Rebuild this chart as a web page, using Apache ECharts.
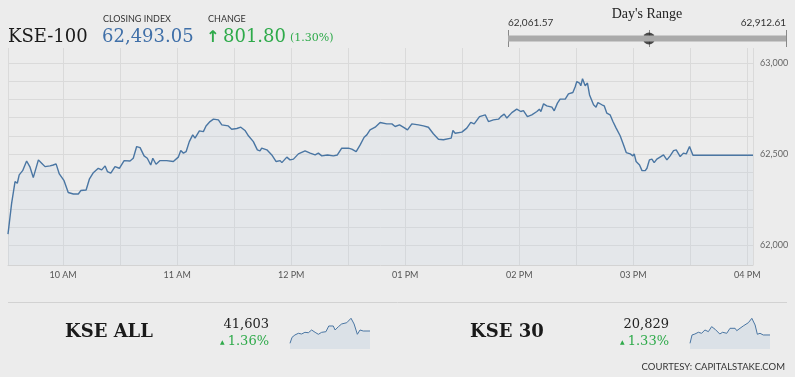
<!DOCTYPE html>
<html><head><meta charset="utf-8">
<script src="https://cdn.jsdelivr.net/npm/echarts@6/dist/echarts.min.js"></script>
<style>html,body{margin:0;padding:0;background:#ececec}#c{width:795px;height:377px}</style>
</head><body><div id="c"></div>
<script>
// ---- KSE-100 intraday (minutes since midnight, index value) ----
const timesMin = [571,572.9,574.7,575.9,576.9,578.7,580.8,582.6,584.3,585.2,
587,588.7,590.5,591.4,593.1,594.8,596.3,598,600.5,602.7,
605.4,608,609.3,612.1,613.8,615.9,618.5,620.3,622.1,623.3,
625.1,627.3,629.6,632.1,635.2,636.9,638.7,640.5,642.6,644.3,
646.1,647.2,648.9,651,654.5,658,660.6,661.9,663.3,664.7,
666.4,668.2,669.4,671.7,673.8,675.2,677.3,679.1,681.7,683.5,
686.9,688.7,691.4,693.5,695.7,697.5,700.1,702.2,703.6,704.5,
707.2,709.8,712.1,714.2,715.1,717.7,719.4,721.2,723.8,727.3,
730,732.6,734.3,736.1,739.1,742.2,744.3,746.6,750.1,751.9,
754.2,756.3,758.4,759.8,761.5,764.2,766.8,770.3,773,774.7,
777,779.4,781.2,783.5,787,789.6,792.2,794.8,797.5,800.1,
804.2,805.1,806.3,809.8,812.4,814.5,816.3,819.1,822.1,823.8,
826.4,829.1,830.3,832.1,833.5,836.1,838.7,840.8,842.2,844.3,
846.6,849.3,850.6,851.4,852.8,854.5,857.2,858.4,860.1,861.5,
864.2,865.9,868.2,869.4,870.3,871.7,872.4,873.3,874.7,875.9,
877,879.1,880.4,881.4,883.5,884.7,886.1,887.8,889.3,891,
893.1,894.9,896.3,898.4,899.8,900.5,901.5,903.3,904.6,906.3,
907.2,908.5,909.8,911,912.4,914.5,915.9,917.7,919.4,921.2,
922.6,924.7,926.4,927.9,929.6,930.5,931.4,963];
const kse100Values = [62061.57,62230,62349,62340,62386,62409,62462,62428,62371,62371,
62468,62450,62431,62440,62435,62440,62446,62391,62354,62289,
62281,62281,62300,62303,62362,62398,62422,62413,62435,62404,
62395,62431,62422,62464,62462,62477,62541,62535,62490,62477,
62440,62477,62444,62464,62464,62459,62483,62519,62505,62513,
62568,62605,62587,62627,62623,62654,62678,62691,62687,62660,
62654,62636,62640,62647,62629,62600,62568,62523,62517,62532,
62523,62495,62459,62464,62453,62483,62468,62472,62501,62517,
62505,62495,62505,62490,62495,62490,62495,62532,62532,62527,
62513,62550,62592,62605,62632,62647,62673,62665,62665,62651,
62660,62645,62632,62665,62660,62654,62647,62611,62581,62578,
62587,62629,62614,62620,62642,62673,62665,62705,62715,62678,
62687,62691,62705,62719,62697,62727,62746,62733,62738,62705,
62715,62733,62746,62733,62775,62764,62757,62737,62779,62801,
62801,62830,62837,62867,62897,62889,62874,62912.61,62874,62889,
62824,62770,62757,62782,62770,62764,62724,62715,62678,62642,
62600,62550,62508,62501,62490,62501,62459,62440,62409,62409,
62422,62468,62472,62453,62472,62486,62495,62468,62490,62519,
62523,62486,62505,62501,62541,62545,62493.05,62493.05];

// ---- axes ----
const yGridValues = [62000,62100,62200,62300,62400,62500,62600,62700,62800,62900,63000];
const yLabelValues = [62000,62500,63000];
const xGridValues = [571,600,630,660,690,720,750,780,810,840,870,900,930,960,963];
const xLabelValues = [600,660,720,780,840,900,960];

// ---- header figures ----
const closingIndex = 62493.05;
const changePoints = 801.80;
const changePct = 1.30;
const dayLow = 62061.57;
const dayHigh = 62912.61;

// ---- sparklines ----
const kseAllTimes = [571,581,595,612,628,644,661,677,694,710,726,747,761,783,792,808,824,849,870,885,901,914,930,963];
const kseAllValues = [41323,41459,41512,41551,41535,41573,41564,41626,41573,41528,41573,41587,41717,41717,41626,41701,41763,41792,41893,41763,41528,41626,41603,41603];
const kseAllClose = 41603, kseAllPct = 1.36;
const kse30Times = [571,581,595,612,628,644,661,677,694,717,731,751,767,792,800,816,832,857,874,890,901,914,930,963];
const kse30Values = [20734,20829,20840,20860,20848,20886,20867,20924,20894,20840,20860,20848,20905,20905,20878,20905,20932,20969,21019,20943,20837,20848,20829,20829];
const kse30Close = 20829, kse30Pct = 1.33;

const fmt = (v, d) => v.toLocaleString('en-US', {minimumFractionDigits: d, maximumFractionDigits: d});
const zip = (a, b) => a.map((t, i) => [t, b[i]]);
const timeLabel = v => { const h = Math.floor(v / 60); const hh = h > 12 ? h - 12 : h; return String(hh).padStart(2, '0') + (h >= 12 ? ' PM' : ' AM'); };

const SERIF = '"DejaVu Serif", serif';
const SANS = 'Lato, "Open Sans", sans-serif';
const BLUE = '#4a76a3';
const GREEN = '#2eaa4a';

function txt(x, y, text, font, fill, align) {
  return { type: 'text', silent: true, style: { x, y, text, font, fill, textAlign: align || 'left', align: align || 'left', textVerticalAlign: 'middle', verticalAlign: 'middle' } };
}

const chart = echarts.init(document.getElementById('c'), null, { renderer: 'canvas' });
chart.setOption({
  backgroundColor: '#ececec',
  animation: false,
  grid: [
    { left: 8, width: 745, top: 48, height: 217 },
    { left: 508, width: 278, top: 30, height: 17 },
    { left: 290, width: 80, top: 317, height: 32 },
    { left: 690, width: 80, top: 317, height: 32 }
  ],
  xAxis: [
    { gridIndex: 0, type: 'value', min: 571, max: 963,
      axisLine: { show: true, onZero: false, lineStyle: { color: '#d3d3d3', width: 1 } },
      axisTick: { show: false, customValues: xGridValues },
      splitLine: { show: true, lineStyle: { color: '#dadada', width: 1 } },
      axisLabel: { customValues: xLabelValues, formatter: timeLabel, color: '#555', fontSize: 9, fontFamily: SANS, margin: 6 } },
    { gridIndex: 1, type: 'value', min: dayLow, max: dayHigh,
      axisLine: { show: false }, axisLabel: { show: false },
      axisTick: { show: false, customValues: [dayLow, closingIndex, dayHigh] },
      splitLine: { show: true, lineStyle: { color: '#888', width: 1 } } },
    { gridIndex: 2, type: 'value', min: 571, max: 963, show: false },
    { gridIndex: 3, type: 'value', min: 571, max: 963, show: false }
  ],
  yAxis: [
    { gridIndex: 0, type: 'value', position: 'right', min: 61892, max: 63081,
      axisLine: { show: false },
      axisTick: { show: false, customValues: yGridValues },
      splitLine: { show: true, lineStyle: { color: '#dadada', width: 1 } },
      axisLabel: { customValues: yLabelValues, formatter: v => fmt(v, 0), color: '#666', fontSize: 9, fontFamily: SANS, margin: 7 } },
    { gridIndex: 1, type: 'value', min: 0, max: 1, show: false },
    { gridIndex: 2, type: 'value', min: 41193, max: 41922, show: false },
    { gridIndex: 3, type: 'value', min: 20669, max: 21034, show: false }
  ],
  series: [
    { type: 'line', xAxisIndex: 0, yAxisIndex: 0, data: zip(timesMin, kse100Values), showSymbol: false, symbol: 'none',
      lineStyle: { color: BLUE, width: 1.4 }, areaStyle: { color: 'rgba(190,208,228,0.25)', origin: 'start' }, silent: true },
    { type: 'line', xAxisIndex: 1, yAxisIndex: 1, data: [[dayLow, 0.5], [dayHigh, 0.5]], symbol: 'none',
      lineStyle: { color: '#aaaaaa', width: 6, cap: 'butt' }, silent: true },
    { type: 'scatter', xAxisIndex: 1, yAxisIndex: 1, data: [[closingIndex, 0.5]], symbolSize: 12,
      itemStyle: { color: '#222' }, silent: true },
    { type: 'line', xAxisIndex: 2, yAxisIndex: 2, data: zip(kseAllTimes, kseAllValues), symbol: 'none',
      lineStyle: { color: BLUE, width: 1 }, areaStyle: { color: 'rgba(170,195,220,0.35)', origin: 'start' }, silent: true },
    { type: 'line', xAxisIndex: 3, yAxisIndex: 3, data: zip(kse30Times, kse30Values), symbol: 'none',
      lineStyle: { color: BLUE, width: 1 }, areaStyle: { color: 'rgba(170,195,220,0.35)', origin: 'start' }, silent: true }
  ],
  graphic: [
    txt(8, 37, 'KSE-100', '18px ' + SERIF, '#1a1a1a'),
    txt(103, 19, 'CLOSING INDEX', '9px ' + SANS, '#333'),
    txt(102, 37, fmt(closingIndex, 2), '18px ' + SERIF, '#3f6fa8'),
    txt(208, 19, 'CHANGE', '9px ' + SANS, '#333'),
    txt(206, 38, '↑', 'bold 16px "DejaVu Sans"', GREEN),
    txt(223, 37, fmt(changePoints, 2), '18px ' + SERIF, GREEN),
    txt(290, 38, '(' + fmt(changePct, 2) + '%)', '11px ' + SERIF, GREEN),
    txt(647, 14, "Day's Range", '14px "Liberation Serif", serif', '#222', 'center'),
    txt(508, 23, fmt(dayLow, 2), '10px ' + SANS, '#333'),
    txt(786, 23, fmt(dayHigh, 2), '10px ' + SANS, '#333', 'right'),
    { type: 'line', silent: true, shape: { x1: 8, y1: 302.5, x2: 787, y2: 302.5 }, style: { stroke: '#d2d2d2', lineWidth: 1 } },
    txt(65, 332, 'KSE ALL', 'bold 18px ' + SERIF, '#1a1a1a'),
    txt(269, 325, fmt(kseAllClose, 0), '13px ' + SERIF, '#222', 'right'),
    txt(220, 342, '▲', '6px "DejaVu Sans"', GREEN),
    txt(269, 342, fmt(kseAllPct, 2) + '%', '13px ' + SERIF, GREEN, 'right'),
    txt(470, 332, 'KSE 30', 'bold 18px ' + SERIF, '#1a1a1a'),
    txt(669, 325, fmt(kse30Close, 0), '13px ' + SERIF, '#222', 'right'),
    txt(620, 342, '▲', '6px "DejaVu Sans"', GREEN),
    txt(669, 342, fmt(kse30Pct, 2) + '%', '13px ' + SERIF, GREEN, 'right'),
    txt(785, 367, 'COURTESY: CAPITALSTAKE.COM', '9.5px ' + SANS, '#333', 'right')
  ]
});
</script></body></html>
